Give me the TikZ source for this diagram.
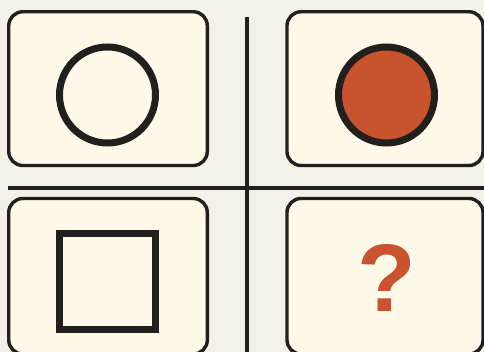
\documentclass[tikz,border=0pt]{standalone}
\usepackage{fontspec}
\setmainfont{Liberation Sans}
\definecolor{bgc}{RGB}{244,241,232}
\definecolor{boxfill}{RGB}{255,249,234}
\definecolor{ink}{RGB}{34,32,28}
\definecolor{rust}{RGB}{200,83,46}
\begin{document}
\begin{tikzpicture}[x=1pt,y=-1pt,
  card/.style={draw=ink,fill=boxfill,line width=3.4pt,rounded corners=14pt},
  glyph/.style={draw=ink,line width=7pt},
  rule/.style={draw=ink,line width=4pt}]
\fill[bgc] (0,0) rectangle (484,352);
\useasboundingbox (0,0) rectangle (484,352);
% dividing lines
\coordinate (vtop) at (247,17);
\coordinate (vbot) at (247,352);
\coordinate (hl) at (8,188);
\coordinate (hr) at (484,188);
\draw[rule] (vtop) -- (vbot);
\draw[rule] (hl) -- (hr);
% cards
\draw[card] (8.75,11.75) rectangle (207.3,165.5);
\draw[card] (287,11.75) rectangle (483,165.5);
\draw[card] (8.75,198.5) rectangle (207.3,354);
\draw[card] (287,198.5) rectangle (483,354);
% glyphs
\draw[glyph] (107.5,95) circle (48);
\draw[glyph,fill=rust] (386.5,95) circle (48);
\draw[glyph] (59.5,233.5) rectangle (155.5,329.5);
\node[anchor=base,text=rust,font=\fontsize{96}{96}\selectfont\bfseries,inner sep=0pt] (q) at (387,312) {?};
\end{tikzpicture}
\end{document}
